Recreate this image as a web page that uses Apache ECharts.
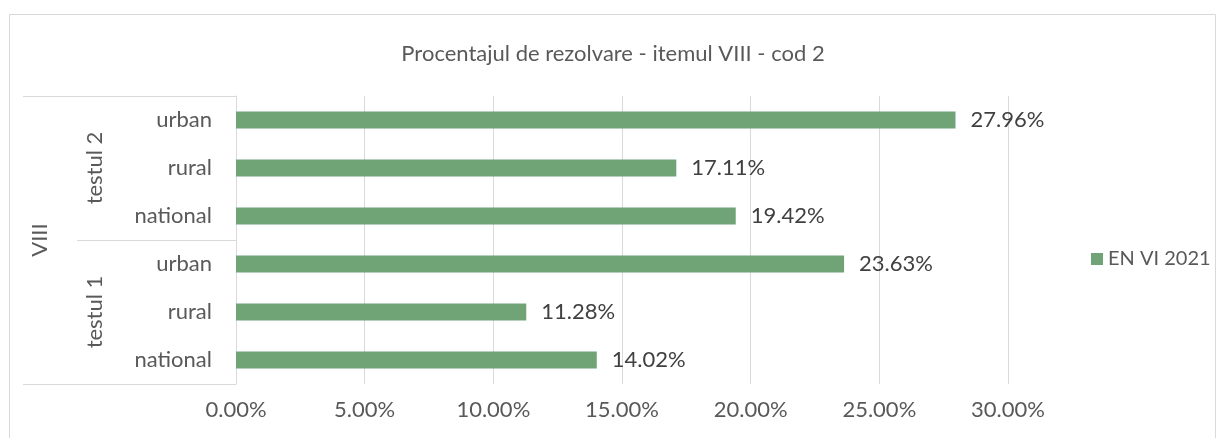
<!DOCTYPE html>
<html>
<head>
<meta charset="utf-8">
<script src="https://cdn.jsdelivr.net/npm/echarts@6/dist/echarts.min.js"></script>
<style>
  html, body { margin: 0; padding: 0; background: #fff; }
  #chart { width: 1226px; height: 438px; }
</style>
</head>
<body>
<div id="chart"></div>
<script>
// top to bottom, as drawn
var categories = ["urban", "rural", "national", "urban", "rural", "national"];
var groups = ["testul 2", "testul 1"];
var item = ["VIII"];
var values = [27.96, 17.11, 19.42, 23.63, 11.28, 14.02];
var xTicks = [0, 5, 10, 15, 20, 25, 30];
var seriesName = "EN VI 2021";

var font = "Lato, 'Open Sans', sans-serif";
var lineColor = "#d9d9d9";
var textColor = "#595959";

var chart = echarts.init(document.getElementById("chart"));
var option = {
  animation: false,
  textStyle: { fontFamily: font },
  graphic: [
    {
      type: "rect",
      shape: { x: 9.5, y: 14.5, width: 1206, height: 440 },
      style: { fill: "none", stroke: lineColor, lineWidth: 1 },
    },
  ],
  title: {
    text: "Procentajul de rezolvare - itemul VIII - cod 2",
    left: "center",
    top: 38,
    textStyle: { fontFamily: font, fontSize: 22, fontWeight: "normal", color: textColor },
  },
  legend: {
    data: [seriesName],
    left: 1086,
    top: 244,
    icon: "rect",
    itemWidth: 12,
    itemHeight: 12,
    itemGap: 8,
    textStyle: { fontFamily: font, fontSize: 20, color: textColor },
  },
  grid: { left: 236, right: 218, top: 96, bottom: 54, containLabel: false },
  xAxis: {
    type: "value",
    min: xTicks[0],
    max: xTicks[xTicks.length - 1],
    interval: xTicks[1] - xTicks[0],
    axisLine: { show: false },
    axisTick: { show: false },
    splitLine: { lineStyle: { color: lineColor, width: 1 } },
    axisLabel: {
      margin: 15,
      fontSize: 22,
      color: textColor,
      fontFamily: font,
      formatter: function (v) { return v.toFixed(2) + "%"; },
    },
  },
  yAxis: [
    {
      type: "category",
      data: categories,
      inverse: true,
      position: "left",
      axisLine: { show: true, lineStyle: { color: lineColor, width: 1 } },
      axisTick: { show: false },
      axisLabel: { margin: 24, fontSize: 22, color: textColor, fontFamily: font },
    },
    {
      type: "category",
      data: groups,
      inverse: true,
      position: "left",
      axisLine: { show: false },
      axisTick: { show: true, length: 159, lineStyle: { color: lineColor, width: 1 } },
      axisLabel: { rotate: 90, margin: 130, fontSize: 22, color: textColor, fontFamily: font },
    },
    {
      type: "category",
      data: item,
      position: "left",
      axisLine: { show: false },
      axisTick: { show: true, length: 213, lineStyle: { color: lineColor, width: 1 } },
      axisLabel: { rotate: 90, margin: 185, fontSize: 22, color: textColor, fontFamily: font },
    },
  ],
  series: [
    {
      name: seriesName,
      type: "bar",
      yAxisIndex: 0,
      data: values,
      barWidth: 17,
      itemStyle: { color: "#70a477" },
      label: {
        show: true,
        position: "right",
        distance: 15,
        fontSize: 22,
        color: "#404040",
        fontFamily: font,
        formatter: function (p) { return p.value.toFixed(2) + "%"; },
      },
    },
  ],
};
chart.setOption(option);
</script>
</body>
</html>
